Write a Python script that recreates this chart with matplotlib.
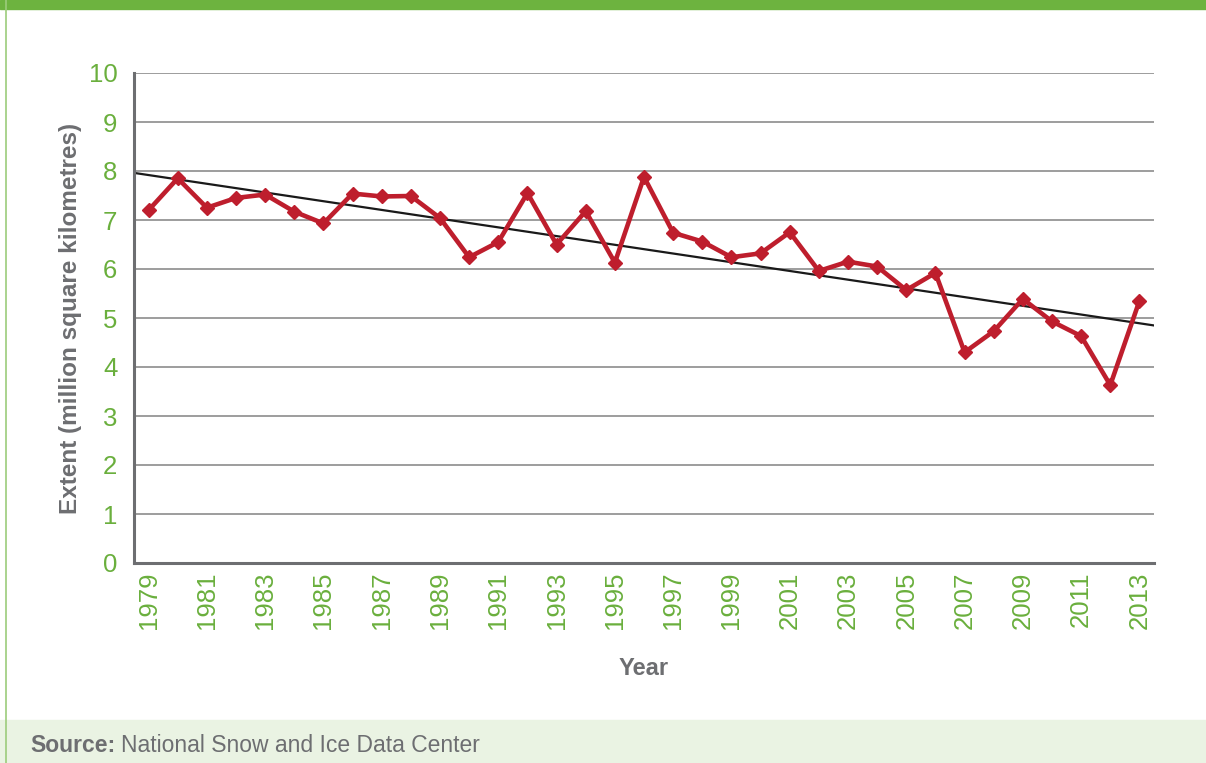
import numpy as np
import matplotlib
matplotlib.use("Agg")
import matplotlib.pyplot as plt
from matplotlib.patches import Rectangle
from matplotlib.lines import Line2D

plt.rcParams['font.family'] = ['Liberation Sans', 'DejaVu Sans']

# september arctic sea ice extent
years = list(range(1979, 2014))
extent = [7.20, 7.85, 7.25, 7.45, 7.52, 7.17, 6.93, 7.54, 7.48, 7.49,
          7.04, 6.24, 6.55, 7.55, 6.50, 7.18, 6.13, 7.88, 6.74, 6.56,
          6.24, 6.32, 6.75, 5.96, 6.15, 6.05, 5.57, 5.92, 4.30, 4.73,
          5.39, 4.93, 4.63, 3.63, 5.35]
tick_years = years[::2]
y_ticks = list(range(0, 11))

green = '#6aaf3d'
red = '#be1e2d'
grey_txt = '#6d6e71'

fig = plt.figure(figsize=(12.06, 7.63), dpi=100)

# frame: green bar on top, thin left border, pale footer
fig.patches.append(Rectangle((0, 1 - 9 / 763), 1, 9 / 763, transform=fig.transFigure,
                             color='#6db33f', zorder=0))
fig.patches.append(Rectangle((0, 0), 1, 43 / 763, transform=fig.transFigure,
                             color='#eaf3e3', zorder=0))
fig.lines.append(Line2D([6 / 1206, 6 / 1206], [0, 1], transform=fig.transFigure,
                        color='#9ccc7c', lw=1.2))

ax = fig.add_axes([134 / 1206, 1 - 563 / 763, 1020 / 1206, 490 / 763])

ax.plot(years, extent, color=red, lw=3.3, marker='D', ms=7, zorder=3)

# linear trend
coef = np.polyfit(years, extent, 1)
xl = np.array([1978.5, 2013.5])
ax.plot(xl, np.polyval(coef, xl), color='#1a1a1a', lw=1.6, zorder=2)

ax.set_xlim(1978.5, 2013.5)
ax.set_ylim(0, 10)
ax.set_yticks(y_ticks)
ax.set_xticks(tick_years)
ax.set_xticklabels([str(y) for y in tick_years], rotation=90)
ax.grid(axis='y', color='#8c8c8c', lw=1.2)
ax.set_axisbelow(True)
ax.tick_params(length=0, labelsize=18.5, labelcolor=green)
ax.tick_params(axis='y', pad=12)
ax.tick_params(axis='x', pad=6)

for s in ['top', 'right']:
    ax.spines[s].set_visible(False)
for s in ['left', 'bottom']:
    ax.spines[s].set_color('#6d6e71')
    ax.spines[s].set_linewidth(2.2)

ax.set_ylabel('Extent (million square kilometres)', fontsize=17.5, fontweight='bold',
              color=grey_txt, labelpad=5)
ax.set_xlabel('Year', fontsize=17, fontweight='bold', color=grey_txt, labelpad=20)

fig.text(30 / 1206, 17 / 763, 'Source:', fontsize=16.5, fontweight='bold', color=grey_txt,
         va='center')
fig.text(121 / 1206, 17 / 763, 'National Snow and Ice Data Center', fontsize=16.5,
         color=grey_txt, va='center')

fig.savefig('out.png', dpi=100)
